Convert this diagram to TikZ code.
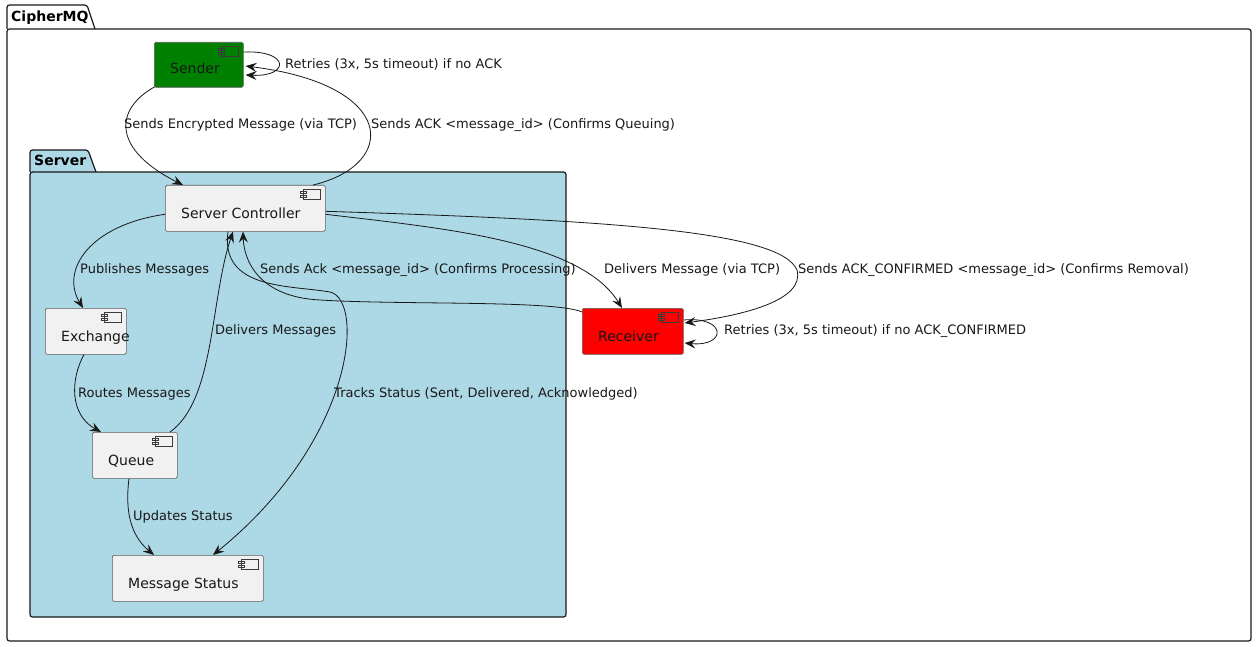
\documentclass[tikz,border=0pt]{standalone}
\usepackage{fontspec}
\setmainfont{DejaVu Sans}
\usetikzlibrary{arrows.meta,calc}
\definecolor{pkgblue}{HTML}{ADD8E6}
\definecolor{compgray}{HTML}{F1F1F1}
\definecolor{ink}{HTML}{181818}
\definecolor{sendgreen}{HTML}{008000}
\definecolor{recvred}{HTML}{FF0000}
\tikzset{
  comp/.style={draw=ink!70, line width=0.6pt, fill=compgray, rounded corners=1.5pt, inner sep=0pt, anchor=north west},
  ctext/.style={anchor=base west, inner sep=0pt, font=\fontsize{14}{16}\selectfont, text=ink},
  elabel/.style={anchor=west, inner sep=0pt, font=\fontsize{13}{15}\selectfont, text=ink},
  pkgline/.style={draw=ink, line width=1.2pt},
  conn/.style={draw=ink, line width=0.8pt, -{Stealth[length=11pt,width=9pt,inset=4pt]}},
  iconline/.style={draw=ink!85, line width=0.5pt},
}
\newcommand{\compicon}[1]{%
  \draw[iconline] ($(#1.north east)+(-22,4)$) rectangle ($(#1.north east)+(-5,14)$);
  \draw[iconline] ($(#1.north east)+(-25,6)$) rectangle ($(#1.north east)+(-19,8.5)$);
  \draw[iconline] ($(#1.north east)+(-25,10)$) rectangle ($(#1.north east)+(-19,12.5)$);
}
\begin{document}
\begin{tikzpicture}[x=1pt,y=-1pt]
\useasboundingbox (0,0) rectangle (1257,647);
% CipherMQ package
\draw[pkgline, fill=white, rounded corners=2.5pt] (7,29) -- (7,5) -- (87,5) -- (95,29);
\draw[pkgline, rounded corners=2.5pt] (7,29) rectangle (1251,641);
\node[anchor=base west, inner sep=0pt, font=\fontsize{14}{16}\selectfont\bfseries] (ciphermq) at (11,22) {CipherMQ};
% Server package
\draw[pkgline, fill=pkgblue, rounded corners=2.5pt] (30,172) -- (30,150) -- (88,150) -- (96,172);
\draw[pkgline, fill=pkgblue, rounded corners=2.5pt] (30,172) rectangle (566,617);
\node[anchor=base west, inner sep=0pt, font=\fontsize{14}{16}\selectfont\bfseries] (server) at (34,166) {Server};
% components
\node[comp, fill=sendgreen, minimum width=89pt, minimum height=45pt] (sender) at (154,42) {};
\node[ctext] (sendert) at ($(sender.north west)+(16,32)$) {Sender};
\node[comp, minimum width=160pt, minimum height=46pt] (sc) at (165,185) {};
\node[ctext] (sct) at ($(sc.north west)+(16,33)$) {Server Controller};
\node[comp, minimum width=81pt, minimum height=46pt] (ex) at (45,308) {};
\node[ctext] (ext) at ($(ex.north west)+(16,33)$) {Exchange};
\node[comp, minimum width=85pt, minimum height=46pt] (queue) at (92,432) {};
\node[ctext] (queuet) at ($(queue.north west)+(16,33)$) {Queue};
\node[comp, minimum width=151pt, minimum height=46pt] (ms) at (112,555) {};
\node[ctext] (mst) at ($(ms.north west)+(16,33)$) {Message Status};
\node[comp, fill=recvred, minimum width=101pt, minimum height=46pt] (recv) at (582,308) {};
\node[ctext] (recvt) at ($(recv.north west)+(16,33)$) {Receiver};
\compicon{sender}
\compicon{sc}
\compicon{ex}
\compicon{queue}
\compicon{ms}
\compicon{recv}
% connectors
\draw[conn] ($(sender.south west)+(1,-1)$) .. controls (113,110) and (113,150) .. ($(sc.north west)+(18,0)$);
\draw[conn] ($(sc.north west)+(148,0)$) .. controls (398,165) and (398,85) .. ($(sender.north east)+(2,24)$);
\draw[conn] ($(sender.north east)+(0,10)$) .. controls (290,50) and (290,77) .. ($(sender.north east)+(2,33)$);
\draw[conn] ($(sc.west)+(0,6)$) .. controls (90,225) and (60,270) .. ($(ex.north west)+(38,0)$);
\draw[conn] ($(ex.south west)+(39,0)$) .. controls (70,380) and (70,415) .. ($(queue.north west)+(9,0)$);
\draw[conn] ($(queue.north west)+(78,0)$) .. controls (215,400) and (210,300) .. ($(sc.south west)+(68,0)$);
\draw[conn] ($(queue.south west)+(37,0)$) .. controls (125,510) and (130,535) .. ($(ms.north west)+(42,0)$);
\draw[conn] ($(sc.south west)+(63,0)$) .. controls (220,290) and (290,285) .. (330,292) .. controls (365,300) and (355,440) .. ($(ms.north west)+(101,0)$);
\draw[conn] ($(recv.north west)+(0,4)$) .. controls (555,300) and (400,305) .. (320,300) .. controls (260,297) and (244,262) .. ($(sc.south west)+(78,0)$);
\draw[conn] ($(sc.east)+(0,6)$) .. controls (440,228) and (580,240) .. ($(recv.north west)+(40,0)$);
\draw[conn] ($(sc.east)+(0,3)$) .. controls (600,220) and (780,230) .. (797,270) .. controls (805,300) and (745,315) .. ($(recv.north east)+(1,15)$);
\draw[conn] ($(recv.north east)+(0,12)$) .. controls (727,316) and (727,347) .. ($(recv.north east)+(1,35)$);
% labels
\node[elabel] (l1) at (124,125) {Sends Encrypted Message (via TCP)};
\node[elabel] (l2) at (371,125) {Sends ACK <message\_id> (Confirms Queuing)};
\node[elabel] (l3) at (285,64) {Retries (3x, 5s timeout) if no ACK};
\node[elabel] (l4) at (80,270) {Publishes Messages};
\node[elabel] (l5) at (260,270) {Sends Ack <message\_id> (Confirms Processing)};
\node[elabel] (l6) at (604,270) {Delivers Message (via TCP)};
\node[elabel] (l7) at (798,270) {Sends ACK\_CONFIRMED <message\_id> (Confirms Removal)};
\node[elabel] (l8) at (215,331) {Delivers Messages};
\node[elabel] (l9) at (724,331) {Retries (3x, 5s timeout) if no ACK\_CONFIRMED};
\node[elabel] (l10) at (78,394) {Routes Messages};
\node[elabel] (l11) at (334,394) {Tracks Status (Sent, Delivered, Acknowledged)};
\node[elabel] (l12) at (133,517) {Updates Status};
\end{tikzpicture}
\end{document}
